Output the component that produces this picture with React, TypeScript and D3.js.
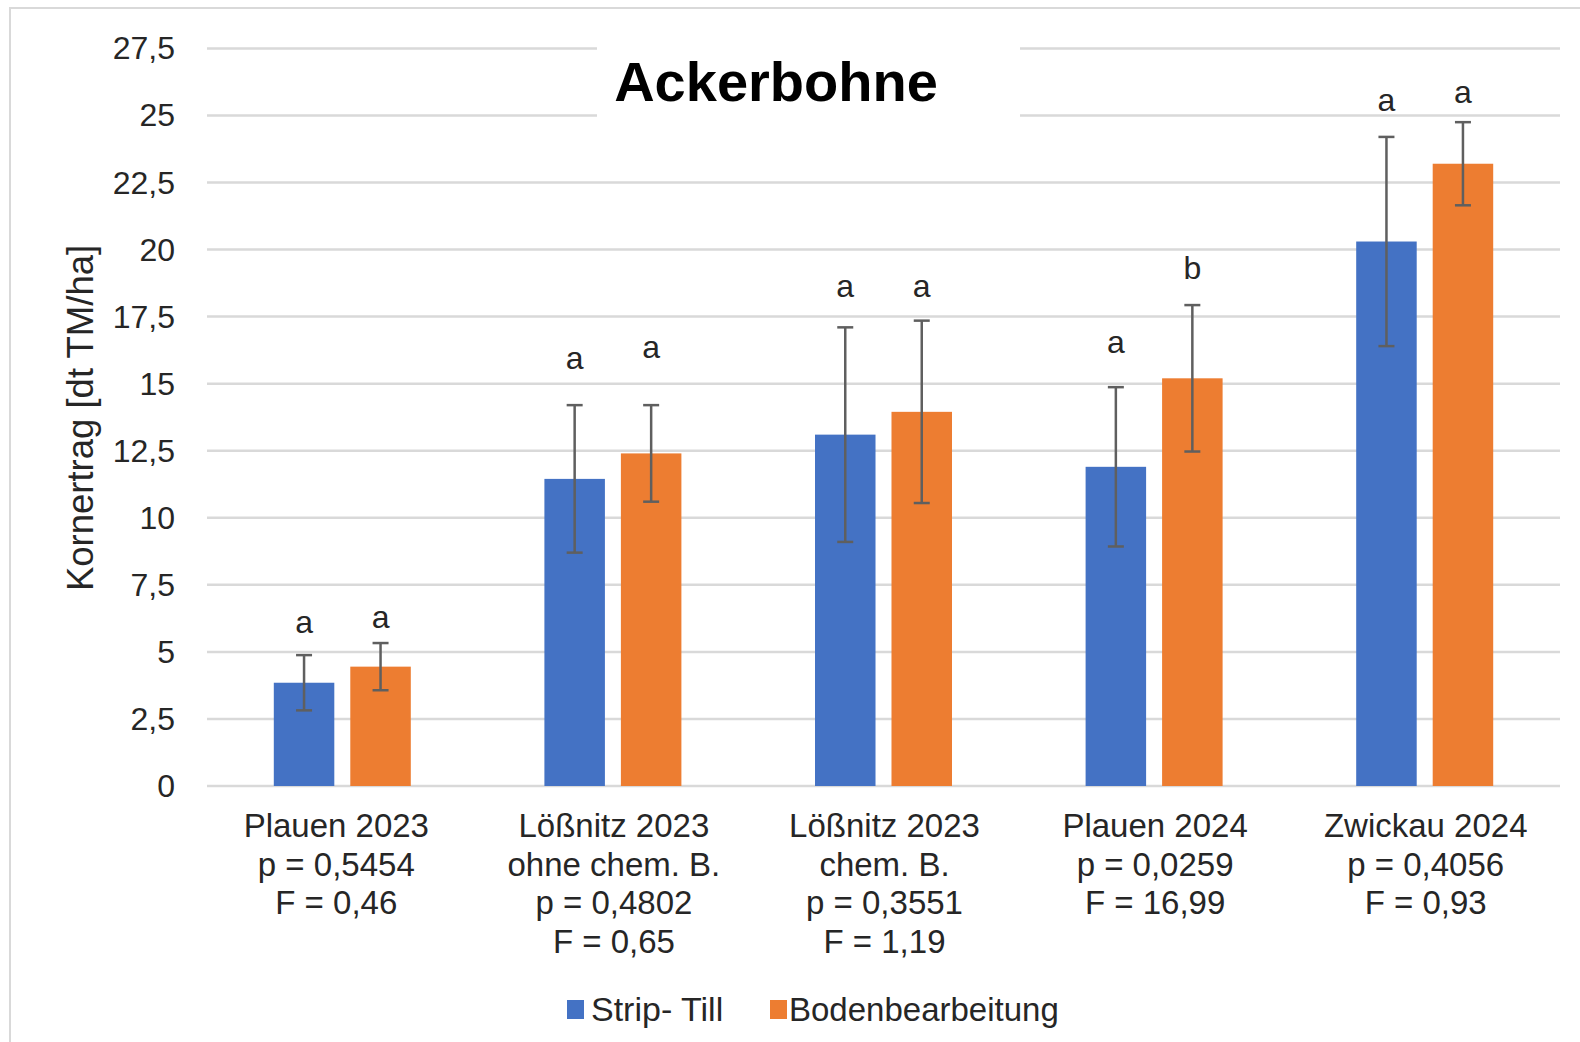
import { useEffect } from 'react';
import * as d3 from 'd3';

const categories = ['Plauen 2023', 'Lößnitz 2023 ohne', 'Lößnitz 2023 chem', 'Plauen 2024', 'Zwickau 2024'];
const categoryLines = [
  ['Plauen 2023', 'p = 0,5454', 'F = 0,46'],
  ['Lößnitz 2023', 'ohne chem. B.', 'p = 0,4802', 'F = 0,65'],
  ['Lößnitz 2023', 'chem. B.', 'p = 0,3551', 'F = 1,19'],
  ['Plauen 2024', 'p = 0,0259', 'F = 16,99'],
  ['Zwickau 2024', 'p = 0,4056', 'F = 0,93'],
];
const seriesNames = ['Strip- Till', 'Bodenbearbeitung'];
const stripTill = [3.85, 11.45, 13.1, 11.9, 20.3];
const boden = [4.45, 12.4, 13.95, 15.2, 23.2];
const stripTillErr = [1.03, 2.75, 4.0, 2.97, 3.9];
const bodenErr = [0.88, 1.8, 3.4, 2.73, 1.55];
const stripTillLetters = ['a', 'a', 'a', 'a', 'a'];
const bodenLetters = ['a', 'a', 'a', 'b', 'a'];
// letter baselines, in axis units
const stripTillLetterAt = [5.7, 15.55, 18.25, 16.15, 25.15];
const bodenLetterAt = [5.9, 15.95, 18.25, 18.9, 25.45];
const yTicks = [0, 2.5, 5, 7.5, 10, 12.5, 15, 17.5, 20, 22.5, 25, 27.5];

const COLORS = ['#4472C4', '#ED7D31'];
const W = 1580;
const H = 1042;
const FONT = '"Liberation Sans", Arial, sans-serif';

export default function App() {
  useEffect(() => {
    document.body.style.margin = '0';
  }, []);

  const x0 = d3.scaleBand<string>().domain(categories).range([207, 1560]);
  const bw = x0.bandwidth();
  const inner = 137;
  const x1 = d3
    .scaleBand<string>()
    .domain(seriesNames)
    .range([(bw - inner) / 2, (bw + inner) / 2])
    .paddingInner(0.209);
  const y = d3.scaleLinear().domain([0, 27.5]).range([786, 48.4]);

  const series = [
    { name: seriesNames[0], values: stripTill, err: stripTillErr, letters: stripTillLetters, letterAt: stripTillLetterAt, color: COLORS[0] },
    { name: seriesNames[1], values: boden, err: bodenErr, letters: bodenLetters, letterAt: bodenLetterAt, color: COLORS[1] },
  ];

  const capW = 16;

  return (
    <svg width={W} height={H} style={{ display: 'block', background: '#fff' }} fontFamily={FONT}>
      <rect x={10} y={8} width={W} height={H} fill="#fff" stroke="#d9d9d9" strokeWidth={2} />

      {/* grid */}
      {yTicks.map((t) => (
        <line key={t} x1={207} x2={1560} y1={y(t)} y2={y(t)} stroke="#d9d9d9" strokeWidth={2.5} />
      ))}

      {/* title box over gridlines */}
      <rect x={597} y={30} width={423} height={93} fill="#fff" />
      <text x={776} y={101} textAnchor="middle" fontSize={56} fontWeight="bold" fill="#000">
        Ackerbohne
      </text>

      {/* y ticks */}
      {yTicks.map((t) => (
        <text key={t} x={175} y={y(t) + 11} textAnchor="end" fontSize={32} fill="#262626">
          {String(t).replace('.', ',')}
        </text>
      ))}
      <text
        transform={`translate(${93},${418}) rotate(-90)`}
        textAnchor="middle"
        fontSize={36.5}
        fill="#262626"
      >
        Kornertrag [dt TM/ha]
      </text>

      {/* bars */}
      {series.map((s) => (
        <g key={s.name}>
          {categories.map((c, i) => {
            const bx = (x0(c) ?? 0) + (x1(s.name) ?? 0);
            const cx = bx + x1.bandwidth() / 2;
            const v = s.values[i];
            const e = s.err[i];
            return (
              <g key={c}>
                <rect x={bx} y={y(v)} width={x1.bandwidth()} height={y(0) - y(v)} fill={s.color} />
                <g stroke="#5f5f5f" strokeWidth={2.5}>
                  <line x1={cx} x2={cx} y1={y(v + e)} y2={y(v - e)} />
                  <line x1={cx - capW / 2} x2={cx + capW / 2} y1={y(v + e)} y2={y(v + e)} />
                  <line x1={cx - capW / 2} x2={cx + capW / 2} y1={y(v - e)} y2={y(v - e)} />
                </g>
                <text x={cx} y={y(s.letterAt[i])} textAnchor="middle" fontSize={32} fill="#262626">
                  {s.letters[i]}
                </text>
              </g>
            );
          })}
        </g>
      ))}

      {/* category labels */}
      {categories.map((c, i) => {
        const cx = (x0(c) ?? 0) + bw / 2 + (i === 0 ? -6 : 1);
        return (
          <text key={c} x={cx} textAnchor="middle" fontSize={33} fill="#262626">
            {categoryLines[i].map((line, j) => (
              <tspan key={j} x={cx} y={837 + j * 38.6}>
                {line}
              </tspan>
            ))}
          </text>
        );
      })}

      {/* legend */}
      <g>
        <rect x={567} y={1000} width={17} height={19} fill={COLORS[0]} />
        <text x={591} y={1021} fontSize={34} fill="#262626">
          {seriesNames[0]}
        </text>
        <rect x={770} y={1000} width={17} height={19} fill={COLORS[1]} />
        <text x={789} y={1021} fontSize={33} fill="#262626">
          {seriesNames[1]}
        </text>
      </g>
    </svg>
  );
}
